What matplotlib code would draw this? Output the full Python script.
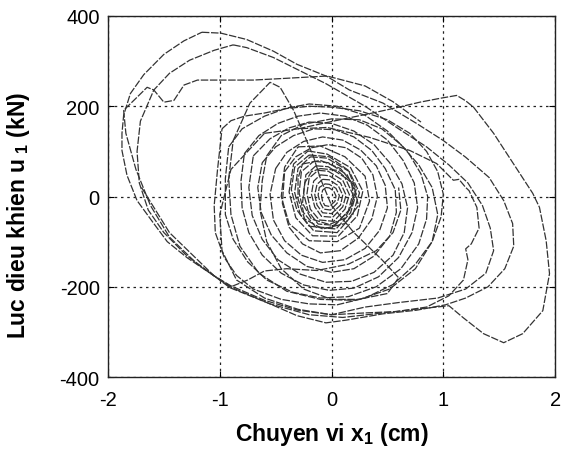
import matplotlib
matplotlib.use("Agg")
import matplotlib.pyplot as plt

plt.rcParams['font.family'] = ['Liberation Sans', 'DejaVu Sans']
plt.rcParams['mathtext.fontset'] = 'custom'
plt.rcParams['mathtext.rm'] = 'Liberation Sans'
plt.rcParams['mathtext.bf'] = 'Liberation Sans:bold'

# ---- data: trajectory segments (displacement x1 in cm, force u1 in kN) ----
outer_x = [-1.16, -0.99, -0.76, -0.52, -0.31, -0.04, 0.16, 0.46, 0.76, 1.0, 1.2, 1.41, 1.54, 1.62, 1.63, 1.55,
           1.40, 1.20, 1.02, 0.76, 0.46, 0.13, -0.05, -0.31, -0.55, -0.91, -1.05, -1.29, -1.47, -1.59, -1.74,
           -1.83, -1.875, -1.875, -1.86, -1.80, -1.68, -1.50, -1.32, -1.16]
outer_y = [364, 362, 348, 322, 293, 266, 236, 207, 162, 124, 87, 42, -9, -60, -110, -160,
           -200, -225, -240, -252, -260, -274, -280, -264, -238, -202, -176, -136, -100, -60, -9,
           47, 102, 140, 180, 228, 270, 315, 345, 364]

second_x = [-0.88, -0.76, -0.52, -0.31, -0.05, 0.3, 0.6, 0.85, 1.05, 1.22, 1.35, 1.42, 1.45, 1.38, 1.2, 0.95,
            0.6, 0.3, 0.0, -0.3, -0.6, -0.9, -1.05, -1.3, -1.5, -1.64, -1.72, -1.74, -1.71, -1.59, -1.45,
            -1.27, -1.05, -0.88]
second_y = [336, 330, 308, 282, 250, 200, 150, 110, 70, 30, -20, -70, -120, -170, -205, -225,
            -235, -245, -262, -252, -230, -198, -176, -130, -80, -30, 30, 100, 167, 236, 273,
            302, 324, 336]

lobe_x = [-0.3, -0.04, 0.13, 0.31, 0.55, 0.79, 0.98, 1.12, 1.20, 1.27, 1.45, 1.65, 1.80, 1.86, 1.92, 1.95,
          1.89, 1.71, 1.54, 1.36, 1.18, 1.05, 0.75, 0.46, 0.1, -0.2, -0.55, -0.91, -1.2, -1.45, -1.62,
          -1.75, -1.84, -1.86, -1.74, -1.65, -1.59, -1.5, -1.41, -1.32, -1.2, -0.7, -0.4, -0.04, 0.3,
          0.55, 0.8]
lobe_y = [150, 164, 173, 182, 195, 209, 218, 224, 212, 198, 140, 64, 7, -24, -98, -171,
          -253, -304, -324, -304, -269, -242, -250, -258, -268, -262, -238, -200, -150, -90, -20,
          60, 140, 191, 220, 242, 236, 209, 213, 247, 258, 258, 262, 267, 245,
          210, 165]

m1_x = [-0.98, -0.9, -0.78, -0.6, -0.4, -0.2, 0.0, 0.25, 0.5, 0.7, 0.85, 0.95, 1.0, 0.98, 0.9, 0.75, 0.55,
        0.3, 0.05, -0.2, -0.45, -0.7, -0.85, -0.96, -1.04, -1.05, -1.02, -0.98]
m1_y = [150, 168, 178, 185, 195, 200, 198, 190, 170, 140, 100, 55, 5, -45, -100, -150, -195,
        -225, -240, -238, -228, -205, -175, -135, -80, -20, 60, 150]

m2_x = [-0.92, -0.8, -0.6, -0.4, -0.2, 0.05, 0.3, 0.5, 0.68, 0.8, 0.86, 0.85, 0.78, 0.62, 0.4, 0.15, -0.1,
        -0.35, -0.58, -0.75, -0.88, -0.95, -0.95, -0.92]
m2_y = [110, 150, 178, 196, 205, 200, 180, 145, 100, 50, 0, -50, -105, -160, -200, -222, -225,
        -212, -185, -145, -95, -40, 40, 110]

m3_x = [-0.78, -0.65, -0.48, -0.3, -0.1, 0.12, 0.32, 0.5, 0.64, 0.74, 0.77, 0.72, 0.6, 0.42, 0.2, -0.02,
        -0.25, -0.45, -0.62, -0.74, -0.8, -0.81, -0.78]
m3_y = [95, 135, 162, 178, 185, 178, 158, 125, 80, 30, -25, -80, -135, -178, -203, -208,
        -196, -170, -130, -80, -25, 35, 95]

m4_x = [-0.7, -0.55, -0.38, -0.2, 0.0, 0.2, 0.38, 0.52, 0.63, 0.68, 0.65, 0.55, 0.38, 0.18, -0.05, -0.28,
        -0.48, -0.62, -0.71, -0.74, -0.7]
m4_y = [90, 128, 152, 165, 162, 145, 115, 75, 28, -25, -80, -130, -168, -188, -190, -172,
        -140, -95, -42, 20, 90]

m5_x = [-0.62, -0.5, -0.34, -0.16, 0.03, 0.2, 0.36, 0.48, 0.57, 0.58, 0.52, 0.38, 0.2, 0.0, -0.22, -0.4,
        -0.54, -0.63, -0.66, -0.62]
m5_y = [75, 110, 135, 150, 148, 132, 102, 62, 15, -35, -88, -132, -160, -168, -155, -125,
        -85, -35, 20, 75]

m6_x = [-0.5, -0.4, -0.25, -0.08, 0.1, 0.26, 0.4, 0.48, 0.5, 0.43, 0.3, 0.12, -0.08, -0.27, -0.42, -0.52,
        -0.55, -0.5]
m6_y = [62, 98, 122, 132, 125, 103, 68, 25, -25, -75, -115, -140, -146, -130, -98, -52, 5, 62]

m7_x = [-0.42, -0.32, -0.18, -0.03, 0.13, 0.27, 0.37, 0.41, 0.36, 0.24, 0.08, -0.1, -0.26, -0.38, -0.44, -0.42]
m7_y = [55, 88, 108, 115, 108, 85, 48, 0, -50, -92, -120, -125, -105, -68, -15, 55]

kink_x = [-0.6, -0.3, -0.04, 0.34, 0.7, 0.94, 1.09, 1.14, 1.2, 1.23, 1.3, 1.32, 1.25, 1.2, 1.22, 1.18, 1.05,
          0.85, 0.58, 0.3, 0.0, -0.3, -0.6, -0.85, -0.98, -1.0, -0.9, -0.6]
kink_y = [140, 150, 153, 131, 102, 73, 36, 38, 20, 13, -24, -70, -105, -116, -140, -185, -220,
          -245, -255, -258, -262, -250, -225, -185, -120, -40, 60, 140]

peak_x = [-0.88, -0.73, -0.55, -0.46, -0.34, -0.25, -0.16, -0.1, 0.0, 0.2, 0.45, 0.6, 0.5, 0.2, -0.1, -0.4,
          -0.65, -0.82, -0.9, -0.92, -0.88]
peak_y = [124, 207, 253, 242, 191, 140, 87, 40, -20, -80, -140, -180, -215, -230, -228, -210,
          -170, -110, -40, 40, 124]

m14_x = [-0.58, -0.45, -0.25, 0.0, 0.25, 0.45, 0.62, 0.78, 0.9, 0.95, 0.9, 0.75, 0.52, 0.25, 0.0, -0.25,
         -0.45, -0.58, -0.64, -0.62, -0.58]
m14_y = [90, 135, 160, 172, 170, 150, 115, 70, 20, -40, -100, -160, -205, -228, -228, -205,
         -160, -100, -30, 35, 90]

low_x = [-1.7, -1.45, -1.2, -1.05, -0.9, -0.75, -0.6, -0.4, -0.13, 0.15, 0.4, 0.55, 0.62, 0.6]
low_y = [20, -80, -140, -176, -200, -185, -165, -160, -164, -150, -120, -80, -30, 20]

s1_x = [-0.21, -0.04, 0.17, 0.28, 0.23, 0.06, -0.17, -0.32, -0.38, -0.34, -0.21]
s1_y = [101, 94, 64, 12, -43, -88, -87, -47, 10, 72, 101]
s2_x = [-0.19, -0.04, 0.16, 0.25, 0.19, 0.05, -0.16, -0.28, -0.33, -0.3, -0.19]
s2_y = [88, 85, 55, 8, -40, -80, -76, -40, 9, 62, 88]
s3_x = [-0.16, -0.03, 0.14, 0.22, 0.17, 0.04, -0.14, -0.25, -0.29, -0.27, -0.16]
s3_y = [78, 75, 48, 6, -36, -72, -68, -36, 8, 55, 78]
s4_x = [-0.14, -0.03, 0.12, 0.19, 0.15, 0.03, -0.12, -0.21, -0.25, -0.23, -0.14]
s4_y = [68, 66, 42, 5, -32, -64, -61, -32, 7, 48, 68]
s5_x = [-0.12, -0.03, 0.1, 0.16, 0.12, 0.02, -0.11, -0.19, -0.22, -0.2, -0.12]
s5_y = [58, 56, 36, 4, -28, -55, -52, -28, 6, 41, 58]
s6_x = [-0.1, -0.02, 0.08, 0.13, 0.1, 0.01, -0.09, -0.15, -0.18, -0.16, -0.1]
s6_y = [48, 46, 30, 3, -23, -46, -44, -23, 5, 34, 48]
s7_x = [-0.08, -0.02, 0.06, 0.10, 0.08, 0.0, -0.08, -0.13, -0.15, -0.13, -0.08]
s7_y = [38, 37, 24, 3, -19, -38, -36, -19, 4, 27, 38]
s8_x = [-0.06, -0.02, 0.04, 0.07, 0.05, -0.01, -0.07, -0.1, -0.12, -0.11, -0.06]
s8_y = [28, 27, 18, 2, -15, -30, -28, -15, 3, 20, 28]
s9_x = [-0.05, -0.02, 0.02, 0.04, 0.03, -0.02, -0.06, -0.08, -0.09, -0.08, -0.05]
s9_y = [20, 19, 12, 1, -11, -22, -20, -11, 2, 14, 20]
t1_x = [-0.2, -0.02, 0.15, 0.22, 0.16, 0.0, -0.2, -0.31, -0.36, -0.33, -0.2]
t1_y = [92, 88, 58, 15, -30, -70, -66, -30, 15, 65, 92]
t2_x = [-0.26, -0.1, 0.08, 0.2, 0.24, 0.12, -0.08, -0.24, -0.3, -0.3, -0.26]
t2_y = [72, 80, 62, 25, -20, -60, -72, -50, -5, 40, 72]
t3_x = [-0.1, 0.05, 0.18, 0.2, 0.12, -0.02, -0.18, -0.26, -0.24, -0.18, -0.1]
t3_y = [62, 58, 30, -10, -48, -62, -50, -15, 30, 55, 62]
t4_x = [-0.3, -0.1, 0.12, 0.3, 0.34, 0.25, 0.05, -0.2, -0.38, -0.45, -0.42, -0.3]
t4_y = [110, 112, 88, 45, -10, -70, -100, -98, -60, 0, 65, 110]

segments = [
    (outer_x, outer_y), (second_x, second_y), (lobe_x, lobe_y), (m1_x, m1_y), (m2_x, m2_y),
    (m3_x, m3_y), (m4_x, m4_y), (m5_x, m5_y), (m6_x, m6_y), (m7_x, m7_y), (kink_x, kink_y),
    (peak_x, peak_y), (m14_x, m14_y), (low_x, low_y), (t4_x, t4_y), (s1_x, s1_y), (t1_x, t1_y),
    (s2_x, s2_y), (t2_x, t2_y), (s3_x, s3_y), (t3_x, t3_y), (s4_x, s4_y), (s5_x, s5_y),
    (s6_x, s6_y), (s7_x, s7_y), (s8_x, s8_y), (s9_x, s9_y),
]

x_ticks = [-2, -1, 0, 1, 2]
y_ticks = [-400, -200, 0, 200, 400]

fig = plt.figure(figsize=(5.61, 4.52), dpi=100)
ax = fig.add_axes([0.1925, 0.1637, 0.797, 0.7987])

for sx, sy in segments:
    ax.plot(sx, sy, color='#333333', linewidth=0.9, linestyle=(0, (6, 1.3)))

ax.set_xlim(-2, 2)
ax.set_ylim(-400, 400)
ax.set_xticks(x_ticks)
ax.set_yticks(y_ticks)
ax.set_xticklabels([str(v) for v in x_ticks])
ax.set_yticklabels([str(v) for v in y_ticks])
ax.grid(True, color='#222222', linestyle=(0, (2, 3)), linewidth=0.9)
ax.tick_params(direction='in', top=True, right=True, length=4, labelsize=14.5)
ax.tick_params(axis='x', pad=9)
ax.tick_params(axis='y', pad=6)
for sp in ax.spines.values():
    sp.set_linewidth(1.0)
    sp.set_color('#222222')

ax.set_xlabel(r'Chuyen vi x$_{\mathbf{1}}$ (cm)', fontsize=16.5, fontweight='bold')
ax.set_ylabel(r'Luc dieu khien u$_{\ \mathbf{1}}$ (kN)', fontsize=16.5, fontweight='bold')
ax.xaxis.set_label_coords(0.5, -0.118)
ax.yaxis.set_label_coords(-0.17, 0.45)

fig.savefig('out.png', dpi=100)
